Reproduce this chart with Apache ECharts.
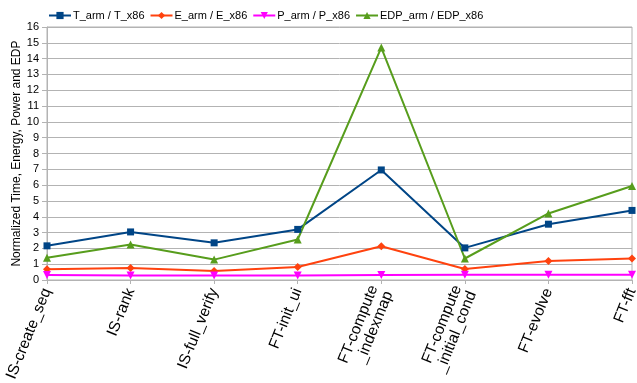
<!DOCTYPE html>
<html><head><meta charset="utf-8">
<script src="https://cdn.jsdelivr.net/npm/echarts@6/dist/echarts.min.js"></script>
<style>html,body{margin:0;padding:0;background:#fff}#c{width:637px;height:383px}</style>
</head><body><div id="c"></div>
<script>
var categories = ['IS-create_seq','IS-rank','IS-full_verify','FT-init_ui','FT-compute\n_indexmap','FT-compute\n_initial_cond','FT-evolve','FT-fft'];
var T_ratio = [2.16, 3.04, 2.35, 3.2, 6.96, 2.03, 3.53, 4.4];
var E_ratio = [0.68, 0.76, 0.57, 0.82, 2.13, 0.70, 1.2, 1.36];
var P_ratio = [0.32, 0.28, 0.28, 0.28, 0.31, 0.33, 0.33, 0.33];
var EDP_ratio = [1.4, 2.24, 1.29, 2.56, 14.7, 1.36, 4.21, 5.94];
var seriesNames = ['T_arm / T_x86','E_arm / E_x86','P_arm / P_x86','EDP_arm / EDP_x86'];

var font = 'Liberation Sans, Arial, sans-serif';
function mk(name, data, color, symbol, size){
  return {name:name,type:'line',data:data,symbol:symbol,symbolSize:size,
    lineStyle:{color:color,width:2},itemStyle:{color:color},color:color,animation:false};
}
var chart = echarts.init(document.getElementById('c'),null,{renderer:'canvas'});
chart.setOption({
  animation:false,
  textStyle:{fontFamily:font},
  legend:{top:5,left:43,itemGap:5,itemWidth:22,itemHeight:9,
    textStyle:{fontFamily:font,fontSize:11,color:'#000',padding:[0,0,0,-3]},
    data:seriesNames},
  grid:{left:47,right:5,top:27,bottom:103,show:true,borderColor:'#b3b3b3',borderWidth:1,outerBoundsMode:'none',containLabel:false},
  xAxis:{type:'category',data:categories,boundaryGap:false,
    axisLine:{lineStyle:{color:'#b3b3b3'}},
    axisTick:{show:true,length:4,alignWithLabel:true,lineStyle:{color:'#b3b3b3'}},
    axisLabel:{rotate:68,interval:0,fontFamily:font,fontSize:15.5,color:'#000',margin:9,lineHeight:16},
    splitLine:{show:false}},
  yAxis:{type:'value',min:0,max:16,interval:1,
    name:'Normalized Time, Energy, Power and EDP',nameLocation:'middle',nameGap:24,nameMoveOverlap:false,
    nameTextStyle:{fontFamily:font,fontSize:12,color:'#000'},
    axisLine:{show:true,lineStyle:{color:'#b3b3b3'}},
    axisTick:{show:true,length:5,lineStyle:{color:'#b3b3b3'}},
    axisLabel:{fontFamily:font,fontSize:11,color:'#000',margin:8},
    splitLine:{lineStyle:{color:'#b3b3b3',width:1}}},
  series:[
    mk(seriesNames[0],T_ratio,'#004586','rect',7),
    mk(seriesNames[1],E_ratio,'#ff420e','diamond',8),
    mk(seriesNames[2],P_ratio,'#ff00ff','path://M0,0 L10,0 L5,9 Z',8),
    mk(seriesNames[3],EDP_ratio,'#579d1c','triangle',8)
  ]
});
</script></body></html>
